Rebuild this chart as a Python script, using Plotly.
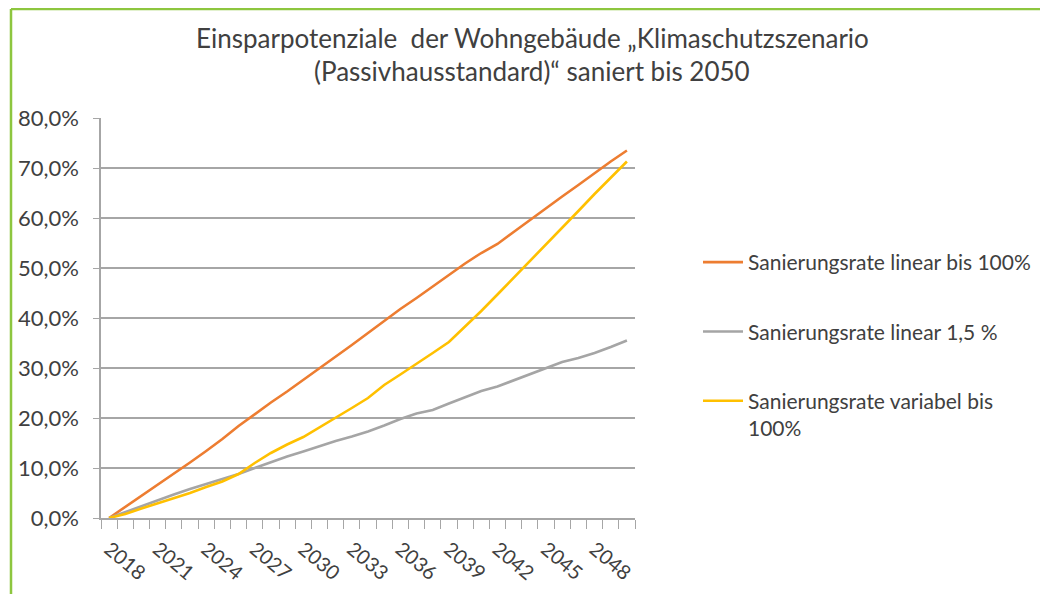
import plotly.graph_objects as go

# ---- data ----
years = list(range(2018, 2051))
tick_years = list(range(2018, 2049, 3))

series_names = [
    "Sanierungsrate linear bis 100%",
    "Sanierungsrate linear 1,5 %",
    "Sanierungsrate variabel bis<br>100%",
]

orange_vals = [0.0, 2.2, 4.4, 6.6, 8.8, 11.1, 13.4, 15.8, 18.4, 20.8, 23.1, 25.3, 27.6,
               29.9, 32.2, 34.6, 37.0, 39.4, 41.8, 44.0, 46.3, 48.5, 50.9, 53.0, 54.8,
               57.2, 59.6, 62.0, 64.3, 66.6, 69.0, 71.3, 73.5]
gray_vals = [0.0, 1.2, 2.4, 3.6, 4.7, 5.8, 6.8, 7.7, 8.8, 10.0, 11.2, 12.3, 13.3,
             14.4, 15.4, 16.3, 17.3, 18.5, 19.8, 20.9, 21.6, 22.9, 24.2, 25.4, 26.3,
             27.5, 28.7, 30.0, 31.2, 32.0, 33.0, 34.2, 35.5]
yellow_vals = [0.0, 0.8, 1.9, 2.9, 3.9, 5.0, 6.2, 7.3, 8.8, 11.0, 13.0, 14.7, 16.2,
               18.1, 20.0, 22.0, 24.0, 26.6, 28.7, 30.8, 33.0, 35.2, 38.2, 41.4, 44.7,
               48.0, 51.3, 54.6, 58.0, 61.4, 64.8, 68.1, 71.3]

colors = ["#ED7D31", "#A5A5A5", "#FFC000"]
all_vals = [orange_vals, gray_vals, yellow_vals]

# ---- layout geometry (page pixels; the page body has an 8px margin) ----
OFF = 8
W, H = 1048 - OFF, 594 - OFF
plot_left, plot_right, plot_top, plot_bottom = 101, 635, 118, 518
L = plot_left - OFF
T = plot_top - OFF
R = W - (plot_right - OFF)
B = H - (plot_bottom - OFF)
pw, ph = W - L - R, H - T - B

def px_x(x):
    return (x - plot_left) / pw

def px_y(y):
    return (plot_bottom - y) / ph

FONT = "Lato, 'Open Sans', sans-serif"
GRID = "#A6A6A6"
TXT = "#404040"

fig = go.Figure()
for i, (name, vals, col) in enumerate(zip(series_names, all_vals, colors)):
    fig.add_trace(go.Scatter(
        x=years, y=[v / 100 for v in vals], mode="lines", name=name,
        line=dict(color=col, width=2.6), legendgroup=f"g{i}",
    ))

fig.update_layout(
    width=W, height=H, autosize=False,
    margin=dict(l=L, r=R, t=T, b=B, pad=0, autoexpand=False),
    paper_bgcolor="white", plot_bgcolor="white",
    separators=",.",
    font=dict(family=FONT, size=20, color=TXT),
    showlegend=True,
    legend=dict(
        x=px_x(698), xanchor="left", y=px_y(242), yanchor="top",
        font=dict(family=FONT, size=21, color=TXT),
        traceorder="grouped", tracegroupgap=39, valign="top",
        itemwidth=40, bgcolor="rgba(0,0,0,0)",
    ),
    xaxis=dict(
        range=[2017.5, 2050.5], tickmode="array", tickvals=tick_years,
        ticktext=[str(y) for y in tick_years], tickangle=40,
        ticks="outside", ticklen=0, showgrid=False, zeroline=False,
        showline=True, linecolor=GRID, linewidth=1.5,
        ticklabelstandoff=10, automargin=False,
        tickfont=dict(family=FONT, size=20, color=TXT),
        minor=dict(ticks="outside", ticklen=9, tickcolor=GRID, tickwidth=1.2,
                   tick0=2017.5, dtick=1, showgrid=False),
    ),
    yaxis=dict(
        range=[0, 0.8], dtick=0.1, tickformat=".1%",
        ticks="outside", ticklen=6, tickcolor=GRID, tickwidth=1.2,
        showgrid=True, gridcolor=GRID, gridwidth=1.5,
        zeroline=False, showline=True, linecolor=GRID, linewidth=1.5,
        ticklabelstandoff=10, automargin=False,
        tickfont=dict(family=FONT, size=22, color=TXT),
    ),
)

# title lines as annotations (precise placement)
title_lines = ["Einsparpotenziale  der Wohngebäude „Klimaschutzszenario",
               "(Passivhausstandard)“ saniert bis 2050"]
for line, yc in zip(title_lines, [38, 71]):
    fig.add_annotation(text=line, xref="paper", yref="paper",
                       x=px_x(532), y=px_y(yc), xanchor="center", yanchor="middle",
                       showarrow=False, font=dict(family=FONT, size=26, color=TXT))

# green frame lines (top and left)
fig.add_shape(type="line", xref="paper", yref="paper",
              x0=px_x(11), x1=px_x(1060), y0=px_y(9), y1=px_y(9),
              line=dict(color="#8DC63F", width=2.5), layer="above")
fig.add_shape(type="line", xref="paper", yref="paper",
              x0=px_x(11), x1=px_x(11), y0=px_y(9), y1=px_y(600),
              line=dict(color="#8DC63F", width=2.5), layer="above")

fig.write_html("out.html")
